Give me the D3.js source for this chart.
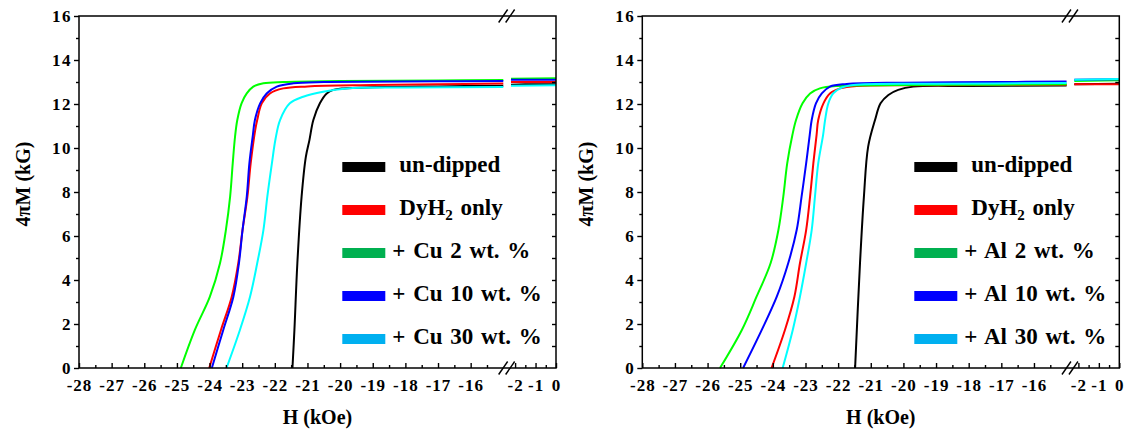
<!DOCTYPE html>
<html>
<head>
<meta charset="utf-8">
<script src="https://cdn.jsdelivr.net/npm/d3@7"></script>
<style>
body { margin: 0; background: #fff; }
svg text { font-family: "Liberation Serif", "Times New Roman", serif; font-weight: bold; fill: #000; }
</style>
</head>
<body>
<div id="chart-area"></div>
<script>
// demagnetization curves, H (kOe) vs 4piM (kG)
const cuUndipped = [[-21.46,0],[-21.40,1.73],[-21.31,4.76],[-21.18,7.79],[-21.05,9.6],[-20.94,10.36],[-20.82,11.27],[-20.62,12.03],[-20.41,12.48],[-20.21,12.64],[-19.9,12.71],[-19,12.76],[-17,12.8],[-15,12.83],[-2.2,12.88],[-1,12.9],[0,12.9]]
const cuDyH2 = [[-24.01,0],[-23.65,1.73],[-23.32,3.24],[-23.12,4.76],[-22.99,6.27],[-22.84,7.79],[-22.74,9.3],[-22.6,10.82],[-22.54,11.27],[-22.40,12.03],[-22.15,12.48],[-21.74,12.71],[-21,12.8],[-19,12.86],[-17,12.9],[-15,12.93],[-2.2,13.0],[0,13.0]]
const cu2 = [[-24.88,0],[-24.45,1.73],[-23.99,3.24],[-23.68,4.76],[-23.50,6.27],[-23.37,7.79],[-23.29,9.3],[-23.22,10.5],[-23.15,11.27],[-23.02,12.03],[-22.86,12.48],[-22.66,12.79],[-22.35,12.94],[-21.74,13.0],[-20,13.04],[-17,13.07],[-15,13.09],[-2.2,13.15],[0,13.17]]
const cu10 = [[-23.93,0],[-23.58,1.73],[-23.27,3.24],[-23.10,4.76],[-22.99,6.27],[-22.86,7.79],[-22.78,9.3],[-22.68,10.5],[-22.61,11.27],[-22.45,12.03],[-22.25,12.48],[-21.94,12.79],[-21.43,12.94],[-20.5,13.0],[-17,13.03],[-15,13.05],[-2.2,13.1],[0,13.1]]
const cu30 = [[-23.48,0],[-23.07,1.73],[-22.76,3.24],[-22.54,4.76],[-22.35,6.27],[-22.23,7.79],[-22.09,9.3],[-21.98,10.4],[-21.84,11.27],[-21.54,12.03],[-21.13,12.33],[-20.52,12.56],[-19.8,12.71],[-18,12.75],[-15,12.77],[-2.2,12.83],[0,12.85]]

const alUndipped = [[-21.48,0],[-21.33,4.76],[-21.21,7.79],[-21.08,10.06],[-20.87,11.27],[-20.70,12.03],[-20.46,12.41],[-20.16,12.64],[-19.70,12.79],[-18,12.82],[-15,12.84],[-2.2,12.9],[0,12.92]]
const alDyH2 = [[-24.04,0],[-23.63,1.73],[-23.34,3.24],[-23.17,4.76],[-22.98,6.27],[-22.86,7.79],[-22.76,9.3],[-22.66,10.6],[-22.61,11.27],[-22.45,12.03],[-22.25,12.48],[-21.94,12.71],[-21.43,12.82],[-19,12.85],[-15,12.87],[-2.2,12.9],[0,12.9]]
const al2 = [[-25.62,0],[-24.95,1.73],[-24.50,3.24],[-24.07,4.76],[-23.83,6.27],[-23.68,7.79],[-23.56,9.3],[-23.40,10.6],[-23.29,11.27],[-23.09,12.03],[-22.86,12.48],[-22.56,12.71],[-22.04,12.82],[-20,12.86],[-17,12.88],[-15,12.9],[-2.2,13.05],[0,13.08]]
const al10 = [[-24.91,0],[-24.34,1.73],[-23.88,3.24],[-23.53,4.76],[-23.27,6.27],[-23.12,7.79],[-22.98,9.3],[-22.87,10.6],[-22.81,11.27],[-22.68,12.03],[-22.5,12.48],[-22.25,12.79],[-21.74,12.91],[-20,12.97],[-17,13.0],[-15,13.02],[-2.2,13.1],[0,13.12]]
const al30 = [[-23.70,0],[-23.39,1.73],[-23.17,3.24],[-22.98,4.76],[-22.81,6.27],[-22.71,7.79],[-22.61,9.3],[-22.46,10.6],[-22.40,11.27],[-22.30,12.03],[-22.15,12.48],[-21.94,12.71],[-21.53,12.86],[-19,12.92],[-15,12.95],[-2.2,13.1],[0,13.14]]

const cuLabels = ['un-dipped', 'DyH2 only', '+ Cu 2 wt. %', '+ Cu 10 wt. %', '+ Cu 30 wt. %']
const alLabels = ['un-dipped', 'DyH2 only', '+ Al 2 wt. %', '+ Al 10 wt. %', '+ Al 30 wt. %']
const lineColors = ['#000000', '#ff0000', '#00ff00', '#0000ff', '#00ffff']
const swatchColors = ['#000000', '#ff0000', '#00b050', '#0000ff', '#00b0f0']

// axis ticks (broken x axis: -28..-15 then -2.2..0)
const xMajor = [-28,-27,-26,-25,-24,-23,-22,-21,-20,-19,-18,-17,-16,-2,-1,0]
const xMinor = [-27.5,-26.5,-25.5,-24.5,-23.5,-22.5,-21.5,-20.5,-19.5,-18.5,-17.5,-16.5,-15.5,-1.5,-0.5]
const yMajor = [0,2,4,6,8,10,12,14,16]
const yMinor = [1,3,5,7,9,11,13,15]
const yAll = [1,2,3,4,5,6,7,8,9,10,11,12,13,14,15]
const xBreak = [-15, -2.2]

const TOP = 16
const W = 477
const H = 352
const panels = [
	{ left: 79, legendX: 342.3, series: [cuUndipped, cuDyH2, cu2, cu10, cu30], labels: cuLabels },
	{ left: 642.3, legendX: 914.3, series: [alUndipped, alDyH2, al2, al10, al30], labels: alLabels }
]

const svg = d3.select('#chart-area').append('svg')
	.attr('width', 1130)
	.attr('height', 432)

const x = d3.scaleLinear()
	.domain([-28, xBreak[0], xBreak[1], 0])
	.range([0, 424.3, 432, W])

const y = d3.scaleLinear()
	.domain([0, 16])
	.range([H, 0])

const line = d3.line()
	.x(d => x(d[0]))
	.y(d => y(d[1]))
	.curve(d3.curveCatmullRom.alpha(0.5))

panels.forEach(p => {
	const g = svg.append('g')
		.attr('transform', `translate(${p.left}, ${TOP})`)

	// curves, split at the axis break
	p.series.forEach((s, i) => {
		const parts = [s.filter(d => d[0] <= xBreak[0]), s.filter(d => d[0] >= xBreak[1])]
		parts.forEach(part => {
			g.append('path')
				.attr('d', line(part))
				.attr('fill', 'none')
				.attr('stroke', lineColors[i])
				.attr('stroke-width', 2)
		})
	})

	// bottom axis, ticks inward
	const xAxis = g.append('g')
		.attr('transform', `translate(0, ${H})`)
		.call(d3.axisBottom(x).tickValues(xMajor).tickSize(-5).tickPadding(11).tickFormat(d => String(d)))
	xAxis.selectAll('text').attr('font-size', '17px').attr('letter-spacing', '1px')
	g.append('g')
		.attr('transform', `translate(0, ${H})`)
		.call(d3.axisBottom(x).tickValues(xMinor).tickSize(-3).tickFormat(''))

	// left axis, ticks outward
	const yAxis = g.append('g')
		.call(d3.axisLeft(y).tickValues(yMajor).tickSize(5).tickPadding(2))
	yAxis.selectAll('text').attr('font-size', '17px').attr('letter-spacing', '1.5px')
	g.append('g')
		.call(d3.axisLeft(y).tickValues(yMinor).tickSize(3).tickFormat(''))

	// right axis, ticks inward
	g.append('g')
		.attr('transform', `translate(${W}, 0)`)
		.call(d3.axisRight(y).tickValues(yAll).tickSize(-4).tickFormat(''))

	g.selectAll('.domain').remove()
	g.selectAll('.tick line').attr('stroke', '#000').attr('stroke-width', 1.4)
	g.selectAll('.tick text').attr('fill', '#000').attr('font-family', null)

	// frame
	g.append('rect')
		.attr('width', W)
		.attr('height', H)
		.attr('fill', 'none')
		.attr('stroke', '#000')
		.attr('stroke-width', 1.5)

	// break marks on top and bottom
	const bx = (x(xBreak[0]) + x(xBreak[1])) / 2
	;[0, H].forEach(by => {
		[-4, 3].forEach(off => {
			g.append('line')
				.attr('x1', bx + off - 4.5).attr('y1', by + 6.5)
				.attr('x2', bx + off + 4.5).attr('y2', by - 6.5)
				.attr('stroke', '#000')
				.attr('stroke-width', 1.4)
		})
	})

	// axis titles
	g.append('text')
		.attr('x', W / 2)
		.attr('y', 408)
		.attr('text-anchor', 'middle')
		.attr('font-size', '20px')
		.text('H (kOe)')

	g.append('text')
		.attr('x', -(H / 2) + 8)
		.attr('y', -49)
		.attr('text-anchor', 'middle')
		.attr('font-size', '20px')
		.attr('transform', 'rotate(-90)')
		.text('4πM (kG)')

	// legend
	const legend = svg.append('g')
		.attr('transform', `translate(${p.legendX}, 0)`)
	p.labels.forEach((label, i) => {
		const base = 172 + i * 43
		legend.append('rect')
			.attr('x', 0)
			.attr('y', base - 10)
			.attr('width', 43)
			.attr('height', 10)
			.attr('fill', swatchColors[i])
		const t = legend.append('text')
			.attr('x', label.startsWith('+') ? 50 : 57)
			.attr('y', base)
			.attr('font-size', '23px')
			.attr('word-spacing', '2px')
		if (label.startsWith('DyH2')) {
			t.append('tspan').text('DyH')
			t.append('tspan').attr('font-size', '15px').attr('dy', 5).text('2')
			t.append('tspan').attr('dy', -5).text(' only')
		} else {
			t.text(label)
		}
	})
})
</script>
</body>
</html>
